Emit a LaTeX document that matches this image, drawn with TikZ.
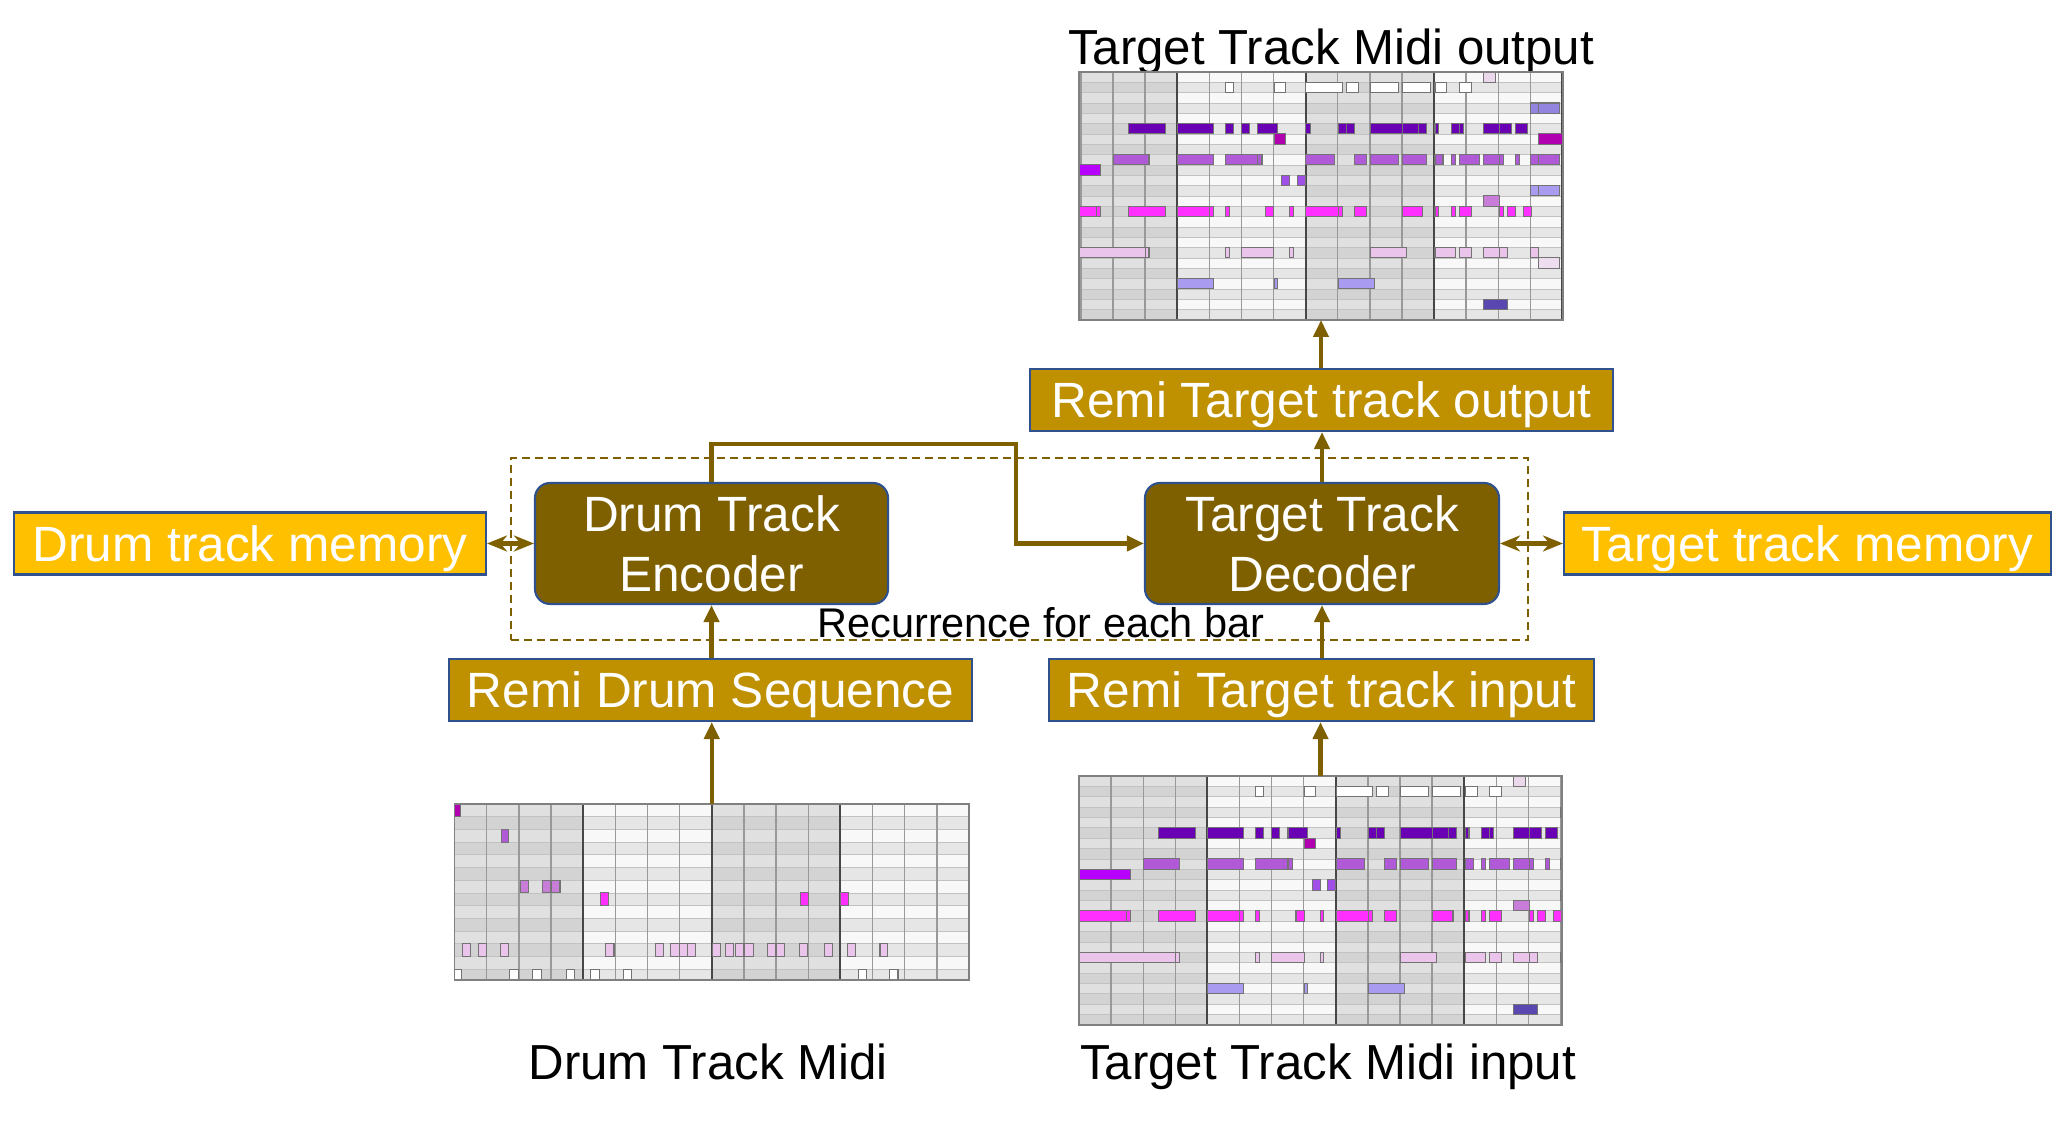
\documentclass[tikz,border=0pt]{standalone}
\usepackage{fontspec}
\setmainfont{Liberation Sans}
\usetikzlibrary{arrows.meta}

\definecolor{oro}{HTML}{7F6000}
\definecolor{orom}{HTML}{BF9000}
\definecolor{oroc}{HTML}{FFC000}
\definecolor{borde}{HTML}{2F528F}
% fondo de la rejilla
\definecolor{filaA}{HTML}{F8F8F8}
\definecolor{filaB}{HTML}{E6E6E6}
\definecolor{filaC}{HTML}{E0E0E0}
\definecolor{filaD}{HTML}{D3D3D3}
% notas
\definecolor{npale}{HTML}{EBD9EB}
\definecolor{ndark}{HTML}{6A00B4}
\definecolor{nplum}{HTML}{B000B0}
\definecolor{nmed}{HTML}{B05AD8}
\definecolor{nviolet}{HTML}{B800FF}
\definecolor{npurple}{HTML}{A050E8}
\definecolor{nblue}{HTML}{9384E0}
\definecolor{nlav}{HTML}{A99CF0}
\definecolor{norchid}{HTML}{C87ED8}
\definecolor{nmag}{HTML}{FF30FF}
\definecolor{npink}{HTML}{EAC4EA}
\definecolor{nfaint}{HTML}{EEDDEE}
\definecolor{nslate}{HTML}{5A48B0}

% rejilla: #1 filas, #2 ultima fila impar
\newcommand{\rejilla}[2]{%
  \foreach \cp/\ca/\cb in {0/filaC/filaD,4/filaA/filaB,8/filaC/filaD,12/filaA/filaB}{
    \fill[fill=\ca] (\cp,0) rectangle ++(5,#1);
    \foreach \fila in {1,3,...,#2}{\fill[fill=\cb] (\cp,\fila) rectangle ++(5,1);}}
  \foreach \fila in {1,...,#1}{\draw[lineafila] (0,\fila) -- (17,\fila);}
  \foreach \pu in {1,...,16}{\draw[lineapulso] (\pu,0) -- (\pu,#1);}
  \foreach \pu in {4,8,12,16}{\draw[lineacompas] (\pu,0) -- (\pu,#1);}}

% notas de la pista destino (fila/inicio/fin/color)
\newcommand{\notasdestino}{%
  \foreach \fila/\ini/\fin/\col in {
    0/13.54/13.9/npale,
    1/5.5/5.76/white,1/7.02/7.38/white,1/8.01/9.14/white,1/9.26/9.64/white,
    1/10.02/10.9/white,1/11.02/11.89/white,1/12.03/12.4/white,1/12.78/13.16/white,
    3/15/15.25/nblue,3/15.25/15.9/nblue,
    5/2.49/3.62/ndark,5/4/5.12/ndark,5/5.5/5.76/ndark,5/6/6.26/ndark,5/6.51/7.13/ndark,
    5/8.01/8.14/ndark,5/9.02/9.26/ndark,5/9.26/9.52/ndark,5/10.02/11.02/ndark,
    5/11.02/11.52/ndark,5/11.52/11.77/ndark,5/12.03/12.15/ndark,5/12.53/12.78/ndark,
    5/12.78/12.91/ndark,5/13.54/14.03/ndark,5/14.03/14.41/ndark,5/14.53/14.91/ndark,
    6/7.02/7.38/nplum,6/15.25/16/nplum,
    8/2/3.12/nmed,8/4/5.12/nmed,8/5.5/6.51/nmed,8/6.51/6.64/nmed,8/8.01/8.89/nmed,
    8/9.51/9.9/nmed,8/10.02/10.9/nmed,8/11.02/11.77/nmed,8/12.03/12.28/nmed,
    8/12.53/12.66/nmed,8/12.78/13.41/nmed,8/13.54/14.03/nmed,8/14.03/14.16/nmed,
    8/14.53/14.66/nmed,8/15/15.25/nmed,8/15.25/15.9/nmed,
    9/0/1.61/nviolet,
    10/7.26/7.51/npurple,10/7.75/8/npurple,
    11/15/15.25/nlav,11/15.25/15.9/nlav,
    12/13.54/14.03/norchid,
    13/0/1.48/nmag,13/1.48/1.61/nmag,13/2.49/3.62/nmag,13/4/5/nmag,13/5/5.12/nmag,
    13/5.5/5.62/nmag,13/6.76/7.01/nmag,13/7.51/7.63/nmag,13/8.01/9.02/nmag,
    13/9.02/9.14/nmag,13/9.51/9.9/nmag,13/11.02/11.65/nmag,13/12.03/12.15/nmag,
    13/12.53/12.66/nmag,13/12.78/13.16/nmag,13/14.03/14.16/nmag,13/14.29/14.53/nmag,
    13/14.78/15.03/nmag,
    17/0/3/npink,17/3/3.12/npink,17/5.5/5.62/npink,17/6/7.01/npink,17/7.51/7.63/npink,
    17/10.02/11.15/npink,17/12.03/12.66/npink,17/12.78/13.16/npink,17/13.54/14.03/npink,
    17/14.03/14.29/npink,17/15/15.25/npink,
    18/15.25/15.9/nfaint,
    20/4/5.12/nlav,20/7.02/7.13/nlav,20/9.02/10.14/nlav,
    22/13.54/14.29/nslate}
  {\filldraw[nota,fill=\col] (\ini,\fila) rectangle (\fin,\fila+1);}}

\begin{document}
\begin{tikzpicture}[line width=0.6pt,>={Triangle[length=1.7mm,width=1.5mm]},
  flecha/.style={->,draw=oro,line width=1.15pt},
  doble/.style={{Stealth[length=2mm,width=1.6mm]}-{Stealth[length=2mm,width=1.6mm]},draw=oro,line width=1.15pt},
  bloque/.style={draw=borde,fill=oro,rounded corners=0.15cm,text=white,align=center,
    minimum width=3.53cm,minimum height=1.21cm,inner sep=0pt,font=\fontsize{14.1}{17}\selectfont},
  remi/.style={draw=borde,fill=orom,text=white,minimum height=0.62cm,inner sep=0pt,
    text height=11.6pt,text depth=1.55pt,font=\fontsize{14.1}{17}\selectfont},
  memoria/.style={remi,fill=oroc},
  rotulo/.style={text height=10.5pt,text depth=2.8pt,font=\fontsize{14}{17}\selectfont},
  rollo/.style={inner sep=0pt,outer sep=0pt},
  lineafila/.style={draw=black!24,line width=0.2pt},
  lineapulso/.style={draw=black!40,line width=0.4pt},
  lineacompas/.style={draw=black!72,line width=0.6pt},
  nota/.style={draw=black!55,line width=0.3pt}]
  \useasboundingbox (0,0) rectangle (20.66,11.23);
  \fill[white] (0,0) rectangle (20.66,11.23);

  % bucle por compas
  \node[draw=oro,dash pattern=on 0.8mm off 0.5mm,minimum width=10.17cm,minimum height=1.82cm,inner sep=0pt] (bucle) at (10.195,5.74) {};
  \node[font=\fontsize{11.8}{14}\selectfont] (rec) at (10.41,5.0) {Recurrence for each bar};

  % bloques
  \node[bloque] (enc) at (7.115,5.795) {Drum Track\\Encoder};
  \node[bloque,minimum width=3.54cm] (dec) at (13.22,5.795) {Target Track\\Decoder};
  \node[memoria,minimum width=4.72cm] (memd) at (2.50,5.795) {Drum track memory};
  \node[memoria,minimum width=4.87cm] (memt) at (18.075,5.795) {Target track memory};
  \node[remi,minimum width=5.23cm] (remd) at (7.105,4.33) {Remi Drum Sequence};
  \node[remi,minimum width=5.45cm] (remi) at (13.215,4.33) {Remi Target track input};
  \node[remi,minimum width=5.83cm] (remo) at (13.215,7.23) {Remi Target track output};

  % rollos de piano
  \node[rollo,minimum width=5.145cm,minimum height=1.76cm] (rdrum) at (7.1175,2.31) {};
  \node[rollo,minimum width=4.83cm,minimum height=2.49cm] (rin) at (13.205,2.225) {};
  \node[rollo,minimum width=4.84cm,minimum height=2.48cm] (rout) at (13.21,9.27) {};
  \node[rotulo] (tout) at (13.31,10.72) {Target Track Midi output};
  \node[rotulo] (tdrum) at (7.08,0.57) {Drum Track Midi};
  \node[rotulo] (tin) at (13.28,0.57) {Target Track Midi input};

  \begin{scope}[shift={(rdrum.north west)},x=0.3216cm,y=-0.127cm]
    \clip (rdrum.south west) rectangle (rdrum.north east);
    \rejilla{14}{13}
    \foreach \fila/\ini/\fin/\col in {
      0/0/0.19/nplum,2/1.45/1.69/nmed,
      6/2.04/2.29/norchid,6/2.73/3/norchid,6/3/3.28/norchid,
      7/4.53/4.78/nmag,7/10.75/11/nmag,7/11.99/12.24/nmag,
      11/0.25/0.49/npink,11/0.74/1/npink,11/1.42/1.67/npink,11/4.7/4.96/npink,
      11/6.25/6.51/npink,11/6.73/6.99/npink,11/6.99/7.24/npink,11/7.24/7.48/npink,
      11/8.03/8.28/npink,11/8.44/8.68/npink,11/8.74/8.99/npink,11/9.03/9.29/npink,
      11/9.73/9.99/npink,11/10.01/10.26/npink,11/10.73/10.98/npink,11/11.5/11.76/npink,
      11/12.22/12.46/npink,11/13.23/13.47/npink,
      13/0/0.21/white,13/1.72/1.98/white,13/2.44/2.7/white,13/3.48/3.73/white,
      13/4.24/4.5/white,13/5.26/5.51/white,13/12.55/12.8/white,13/13.52/13.79/white}
    {\filldraw[nota,fill=\col] (\ini,\fila) rectangle (\fin,\fila+1);}
  \end{scope}
  \draw[draw=black!50,line width=0.4pt] (rdrum.south west) rectangle (rdrum.north east);

  \begin{scope}[shift={(rin.north west)},x=0.321cm,y=-0.1037cm]
    \clip (rin.south west) rectangle (rin.north east);
    \rejilla{24}{23}
    \notasdestino
  \end{scope}
  \draw[draw=black!50,line width=0.4pt] (rin.south west) rectangle (rin.north east);

  \begin{scope}[shift={(rout.north west)},x=0.321cm,y=-0.1033cm]
    \clip (rout.south west) rectangle (rout.north east);
    \begin{scope}[shift={(-0.94,0)}]
      \rejilla{24}{23}
      \notasdestino
    \end{scope}
  \end{scope}
  \draw[draw=black!50,line width=0.4pt] (rout.south west) rectangle (rout.north east);

  % flechas
  \coordinate (codo) at (10.16,6.79);
  \draw[flecha] (rdrum.north) -- (rdrum.north |- remd.south);
  \draw[flecha] (enc.south |- remd.north) -- (enc.south);
  \draw[flecha] (rin.north) -- (rin.north |- remi.south);
  \draw[flecha] (dec.south |- remi.north) -- (dec.south);
  \draw[flecha] (dec.north) -- (dec.north |- remo.south);
  \draw[flecha] (rout.south |- remo.north) -- (rout.south);
  \draw[flecha] (enc.north) |- (codo) |- (dec.west);
  \draw[doble] (memd.east) -- (enc.west);
  \draw[doble] (dec.east) -- (memt.west);
\end{tikzpicture}
\end{document}
